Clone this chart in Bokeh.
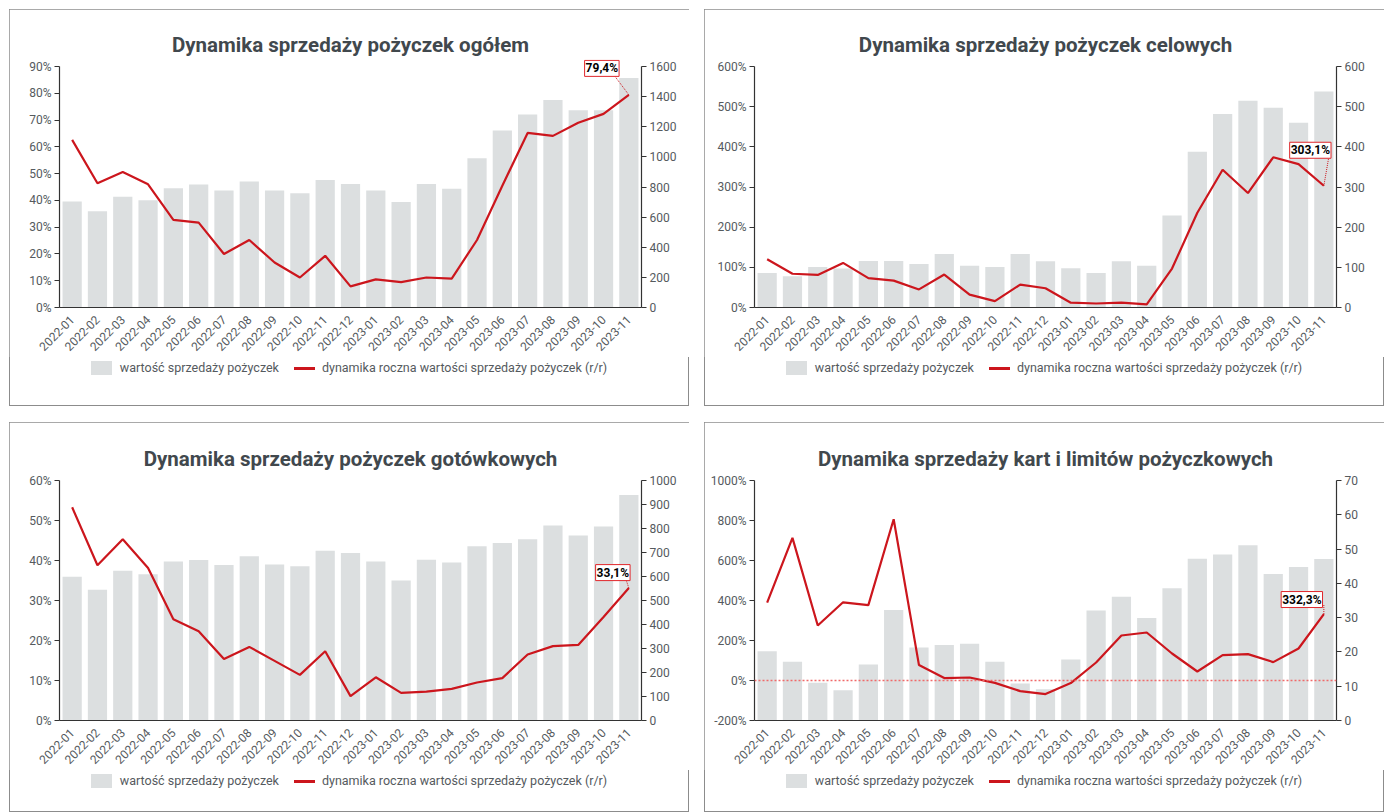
import math
from bokeh.plotting import figure
from bokeh.models import (FactorRange, Range1d, LinearAxis, SingleIntervalTicker,
                          PrintfTickFormatter, Label, Span, Div)
from bokeh.layouts import column, row
from bokeh.embed import file_html
from bokeh.resources import INLINE

# ---------------- data ----------------
categories = ["2022-01", "2022-02", "2022-03", "2022-04", "2022-05", "2022-06",
              "2022-07", "2022-08", "2022-09", "2022-10", "2022-11", "2022-12",
              "2023-01", "2023-02", "2023-03", "2023-04", "2023-05", "2023-06",
              "2023-07", "2023-08", "2023-09", "2023-10", "2023-11"]

titles = ["Dynamika sprzedaży pożyczek ogółem",
          "Dynamika sprzedaży pożyczek celowych",
          "Dynamika sprzedaży pożyczek gotówkowych",
          "Dynamika sprzedaży kart i limitów pożyczkowych"]

bar_label = "wartość sprzedaży pożyczek"
line_label = "dynamika roczna wartości sprzedaży pożyczek (r/r)"

# panel 1: ogółem
sales_total = [703, 639, 736, 712, 792, 816, 776, 836, 776, 758, 847, 820,
               776, 701, 820, 789, 991, 1175, 1282, 1377, 1310, 1310, 1523]
yoy_total = [62.6, 46.4, 50.6, 46.0, 32.7, 31.7, 20.0, 25.2, 16.8, 11.2, 19.3, 7.9,
             10.5, 9.5, 11.2, 10.8, 25.2, 45.5, 65.2, 64.1, 69.0, 72.3, 79.4]

# panel 2: celowe
sales_target = [86, 78, 101, 97, 116, 116, 108, 133, 104, 101, 133, 115,
                98, 86, 115, 104, 229, 388, 482, 515, 497, 460, 538]
yoy_target = [120, 84, 81, 111, 73, 67, 45, 82, 32, 16, 57, 48,
              12, 10, 12, 8, 97, 236, 343, 285, 374, 357, 303.1]

# panel 3: gotówkowe
sales_cash = [599, 545, 624, 609, 662, 669, 648, 684, 650, 643, 707, 698,
              662, 583, 670, 658, 726, 740, 755, 812, 771, 808, 940]
yoy_cash = [53.3, 38.8, 45.3, 38.1, 25.3, 22.3, 15.4, 18.4, 14.9, 11.4, 17.3, 6.1,
            10.8, 6.9, 7.2, 7.9, 9.5, 10.6, 16.5, 18.6, 18.9, 25.9, 33.1]

# panel 4: karty i limity
sales_cards = [20.2, 17.1, 11.0, 8.8, 16.3, 32.2, 21.3, 22.0, 22.4, 17.1, 10.8, 9.1,
               17.8, 32.1, 36.1, 29.9, 38.6, 47.2, 48.4, 51.1, 42.7, 44.8, 47.1]
yoy_cards = [389, 713, 275, 391, 377, 806, 77, 12, 15, -12, -53, -68,
             -13, 90, 225, 240, 135, 45, 127, 132, 92, 160, 332.3]

# axis ranges: (min, max, step)
left_axes = [(0, 90, 10), (0, 600, 100), (0, 60, 10), (-200, 1000, 200)]
right_axes = [(0, 1600, 200), (0, 600, 100), (0, 1000, 100), (0, 70, 10)]

# ---------------- style ----------------
FONT = "Roboto"
BAR_COLOR = "#dcdfe0"
LINE_COLOR = "#cc161d"
LABEL_BORDER = "#e0262b"
TEXT_COLOR = "#555a5e"
TITLE_COLOR = "#41484d"
W = 680
BL, BR = 50, 48
FRAME_W = W - BL - BR
EXT = 7            # extra frame room above the axes' top (px) for the callout box
FIG_BOTTOM = 50

# label placement (screen px offsets from the last point): label centre, leader end
callouts = [((-27, 26.5), (-15, 20)),
            ((-13.5, 35.5), (5, 29)),
            ((-16, 15.5), (-3, 9)),
            ((-22, 14.5), (0, 9))]


def legend_div(height, pad_top):
    html = (
        f'<div style="display:flex;justify-content:center;align-items:center;'
        f'width:{W}px;padding-top:{pad_top}px;font-family:{FONT};font-size:12.5px;'
        f'color:{TEXT_COLOR};white-space:nowrap;line-height:16px;">'
        f'<span style="display:inline-block;width:21px;height:14px;'
        f'background:{BAR_COLOR};margin-right:8px;"></span>'
        f'<span>{bar_label}</span>'
        f'<span style="display:inline-block;width:21px;height:3px;'
        f'background:{LINE_COLOR};margin-left:15px;margin-right:7px;"></span>'
        f'<span>{line_label}</span></div>'
    )
    return Div(text=html, width=W, height=height, margin=0)


def make_panel(i, bars, dyn, top_row):
    lmin, lmax, lstep = left_axes[i]
    rmin, rmax, rstep = right_axes[i]
    total_h = 397 if top_row else 390
    bt = (57 if top_row else 58) - EXT
    fh = 241 if top_row else 240
    H = bt + fh + EXT + FIG_BOTTOM
    ppy = fh / (lmax - lmin)
    ppy_r = fh / (rmax - rmin)
    p = figure(x_range=FactorRange(*categories, range_padding=0),
               y_range=Range1d(lmin, lmax + EXT / ppy),
               width=W, height=H,
               min_border_left=BL, min_border_right=BR,
               min_border_top=bt, min_border_bottom=FIG_BOTTOM,
               output_backend="svg", toolbar_location=None,
               background_fill_color="white", border_fill_color="white",
               outline_line_color=None, margin=0)
    p.extra_y_ranges = {"right": Range1d(rmin, rmax + EXT / ppy_r)}

    p.title.text = titles[i]
    p.title.align = "center"
    p.title.text_font = FONT
    p.title.text_font_size = "20.5px"
    p.title.text_font_style = "bold"
    p.title.text_color = TITLE_COLOR
    p.title.standoff = 6

    p.xgrid.visible = False
    p.ygrid.visible = False

    p.vbar(x=categories, top=bars, bottom=rmin, width=0.76, y_range_name="right",
           fill_color=BAR_COLOR, line_color=None)

    if lmin < 0:
        p.add_layout(Span(location=0, dimension="width", line_color="#f06a6a",
                          line_dash="2 2", line_width=1.5))

    p.line(x=categories, y=dyn, line_color=LINE_COLOR, line_width=2.2)

    # axes
    yax = p.yaxis[0]
    yax.ticker = SingleIntervalTicker(interval=lstep)
    yax.formatter = PrintfTickFormatter(format="%d%%")
    yax.bounds = (lmin, lmax)
    ryax = LinearAxis(y_range_name="right",
                      ticker=SingleIntervalTicker(interval=rstep),
                      bounds=(rmin, rmax))
    p.add_layout(ryax, "right")
    for ax in (yax, ryax):
        ax.axis_line_color = "#333333"
        ax.axis_line_width = 1.2
        ax.major_tick_line_color = "#333333"
        ax.major_tick_out = 5
        ax.major_tick_in = 0
        ax.minor_tick_line_color = None
        ax.major_label_text_font = FONT
        ax.major_label_text_font_size = "12px"
        ax.major_label_text_color = TEXT_COLOR
        ax.major_label_standoff = 3
    xax = p.xaxis[0]
    xax.axis_line_color = "#333333"
    xax.axis_line_width = 1.2
    xax.major_tick_line_color = None
    xax.minor_tick_line_color = None
    xax.major_label_orientation = math.pi / 4
    xax.major_label_text_font = FONT
    xax.major_label_text_font_size = "12px"
    xax.major_label_text_color = TEXT_COLOR
    xax.major_label_standoff = 4

    # callout for the last value
    n = len(categories)
    xl = n - 0.5
    yl = dyn[-1]
    (cdx, cdy), (ldx, ldy) = callouts[i]
    ppx = FRAME_W / n
    p.segment(x0=[xl], y0=[yl], x1=[xl + ldx / ppx], y1=[yl + ldy / ppy],
              line_color=LINE_COLOR, line_dash="1 1", line_width=1)
    txt = f"{yl:.1f}".replace(".", ",") + "%"
    p.add_layout(Label(x=xl, y=yl, x_offset=cdx, y_offset=cdy, text=txt,
                       text_align="center", text_baseline="middle",
                       text_font=FONT, text_font_size="12px", text_font_style="bold",
                       text_color="black", background_fill_color="white",
                       border_line_color=LABEL_BORDER, border_line_width=1,
                       padding=1))

    div_h = total_h - H
    leg = legend_div(div_h, 3)
    return column(p, leg, spacing=0, width=W, height=total_h,
                  styles={"outline": "1px solid #8c8c8c", "outline-offset": "-1px",
                          "background": "white"})


c1 = make_panel(0, sales_total, yoy_total, True)
c2 = make_panel(1, sales_target, yoy_target, True)
c3 = make_panel(2, sales_cash, yoy_cash, False)
c4 = make_panel(3, sales_cards, yoy_cards, False)

layout = column(row(c1, c2, spacing=15), row(c3, c4, spacing=15), spacing=16,
                styles={"margin": "9px 0 0 9px"})

open("out.html", "w").write(file_html(layout, INLINE))
